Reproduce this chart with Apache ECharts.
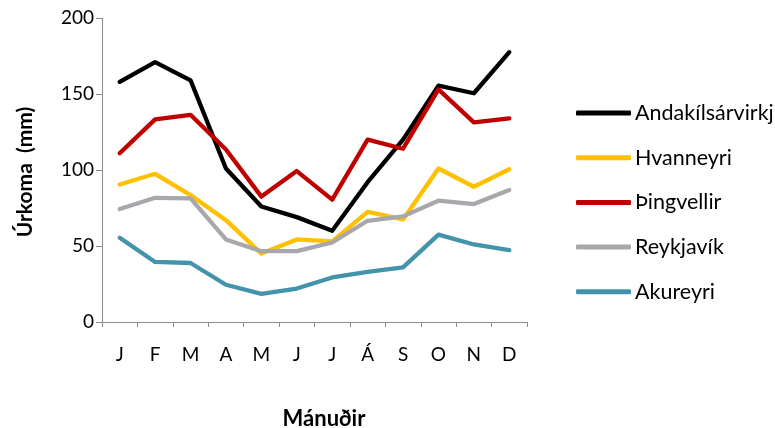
<!DOCTYPE html>
<html>
<head>
<meta charset="utf-8">
<script src="https://cdn.jsdelivr.net/npm/echarts@6/dist/echarts.min.js"></script>
<style>html,body{margin:0;padding:0;background:#fff}#c{width:775px;height:428px}</style>
</head>
<body>
<div id="c"></div>
<script>
const months = ['J','F','M','A','M','J','J','Á','S','O','N','D'];
const andakilsarvirkjun = [158, 171, 159, 101, 76, 69, 60, 92, 120, 155.5, 150.5, 177.5];
const hvanneyri = [90.5, 97.5, 83.5, 67, 45, 54.3, 53, 72.5, 67.5, 101, 89, 100.5];
const thingvellir = [111, 133.3, 136.3, 113.5, 82.5, 99.3, 80.5, 120, 114, 153, 131.3, 134];
const reykjavik = [74.3, 81.7, 81.3, 54.3, 46.6, 46.6, 52.3, 66.6, 69.5, 79.8, 77.6, 86.8];
const akureyri = [55.4, 39.5, 38.8, 24.5, 18.5, 22, 29.3, 33, 35.9, 57.5, 51, 47.3];
const yTicks = [0, 50, 100, 150, 200];

const FONT = 'Lato';
const chart = echarts.init(document.getElementById('c'), null, {renderer: 'canvas'});
function mk(name, data, color) {
  return {
    name: name, type: 'line', data: data, symbol: 'none', smooth: false,
    lineStyle: {width: 4.3, color: color, cap: 'round', join: 'round'},
    itemStyle: {color: color}
  };
}
chart.setOption({
  animation: false,
  backgroundColor: '#fff',
  grid: {left: 102, right: 248, top: 18, bottom: 106, containLabel: false, outerBoundsMode: 'none'},
  legend: {
    orient: 'vertical', left: 576, top: 101, padding: 0,
    itemWidth: 55, itemHeight: 5, icon: 'roundRect', itemGap: 20.7,
    textStyle: {fontFamily: FONT, fontSize: 21.5, color: '#000', lineHeight: 24, padding: [0,0,0,-1]},
    data: ['Andakílsárvirkjun','Hvanneyri','Þingvellir','Reykjavík','Akureyri']
  },
  xAxis: {
    type: 'category', data: months, boundaryGap: true,
    axisLine: {lineStyle: {color: '#8c8c8c', width: 1}},
    axisTick: {show: true, alignWithLabel: false, length: 5, lineStyle: {color: '#8c8c8c'}},
    axisLabel: {fontFamily: FONT, fontSize: 19, color: '#000', margin: 23},
    name: 'Mánuðir', nameLocation: 'middle', nameGap: 86,
    nameTextStyle: {fontFamily: FONT, fontSize: 22, fontWeight: 'bold', color: '#000', padding: [0,0,0,19]}
  },
  yAxis: {
    type: 'value', min: 0, max: 200, interval: 50,
    axisLine: {show: true, lineStyle: {color: '#8c8c8c', width: 1}},
    axisTick: {show: true, length: 6, lineStyle: {color: '#8c8c8c'}},
    splitLine: {show: false},
    axisLabel: {fontFamily: FONT, fontSize: 19, color: '#000', margin: 8,
      formatter: v => yTicks.includes(v) ? String(v) : ''},
    name: 'Úrkoma  (mm)', nameLocation: 'middle', nameGap: 66, nameRotate: 90,
    nameTextStyle: {fontFamily: FONT, fontSize: 21, fontWeight: 'bold', color: '#000', padding: [0,0,0,-4]}
  },
  series: [
    mk('Andakílsárvirkjun', andakilsarvirkjun, '#000000'),
    mk('Hvanneyri', hvanneyri, '#FFC000'),
    mk('Þingvellir', thingvellir, '#C00000'),
    mk('Reykjavík', reykjavik, '#A8A7AB'),
    mk('Akureyri', akureyri, '#4393AA')
  ]
});
</script>
</body>
</html>
